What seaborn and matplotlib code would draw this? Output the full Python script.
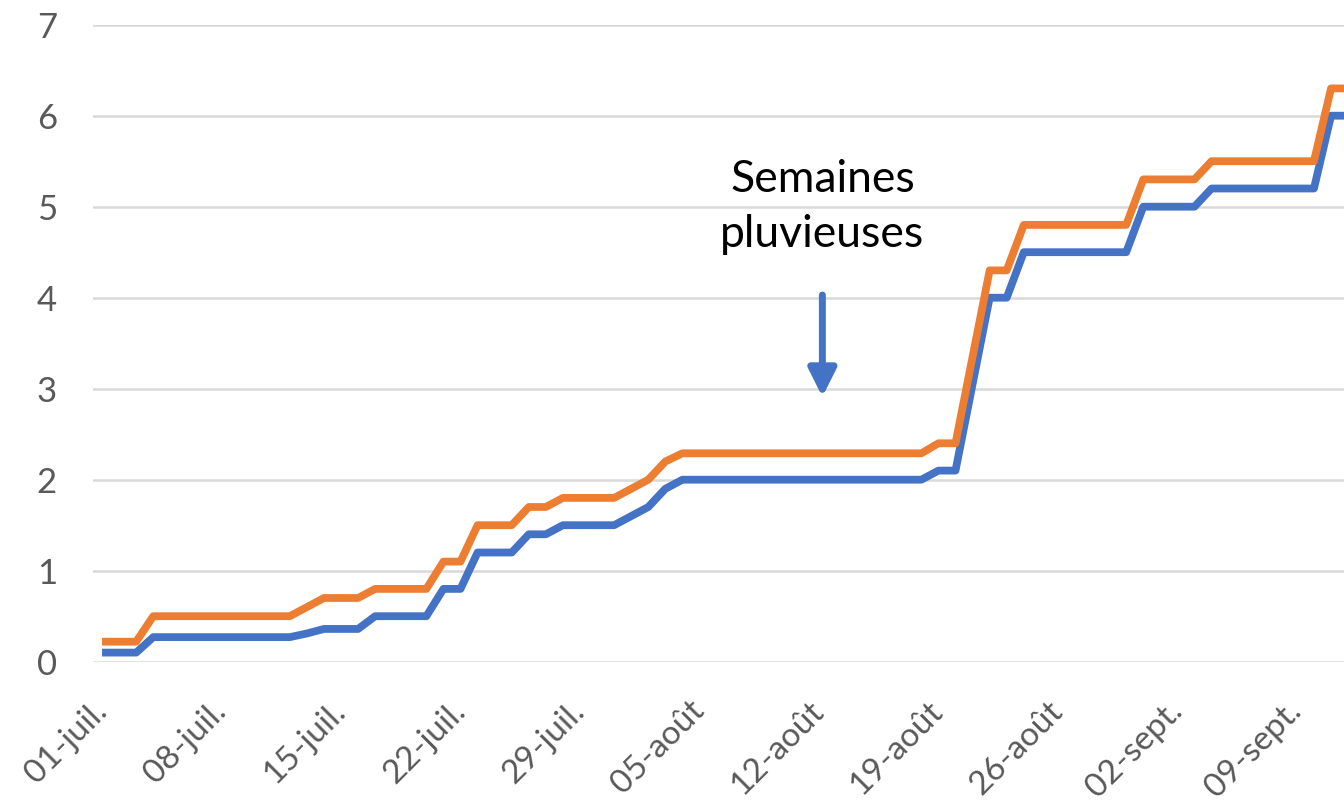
import matplotlib
matplotlib.use("Agg")
import matplotlib.pyplot as plt
import seaborn as sns
import pandas as pd

# ---- data (cumulative values, one per day from 01-juil.) ----
day_index = list(range(74))
serie_bleue = [0.1, 0.1, 0.1, 0.27, 0.27, 0.27, 0.27, 0.27, 0.27, 0.27,
               0.27, 0.27, 0.31, 0.36, 0.36, 0.36, 0.5, 0.5, 0.5, 0.5,
               0.8, 0.8, 1.2, 1.2, 1.2, 1.4, 1.4, 1.5, 1.5, 1.5,
               1.5, 1.6, 1.7, 1.9, 2.0, 2.0, 2.0, 2.0, 2.0, 2.0,
               2.0, 2.0, 2.0, 2.0, 2.0, 2.0, 2.0, 2.0, 2.0, 2.1,
               2.1, 3.05, 4.0, 4.0, 4.5, 4.5, 4.5, 4.5, 4.5, 4.5,
               4.5, 5.0, 5.0, 5.0, 5.0, 5.2, 5.2, 5.2, 5.2, 5.2,
               5.2, 5.2, 6.0, 6.0]
serie_orange = [0.22, 0.22, 0.22, 0.5, 0.5, 0.5, 0.5, 0.5, 0.5, 0.5,
                0.5, 0.5, 0.6, 0.7, 0.7, 0.7, 0.8, 0.8, 0.8, 0.8,
                1.1, 1.1, 1.5, 1.5, 1.5, 1.7, 1.7, 1.8, 1.8, 1.8,
                1.8, 1.9, 2.0, 2.2, 2.29, 2.29, 2.29, 2.29, 2.29, 2.29,
                2.29, 2.29, 2.29, 2.29, 2.29, 2.29, 2.29, 2.29, 2.29, 2.4,
                2.4, 3.35, 4.3, 4.3, 4.8, 4.8, 4.8, 4.8, 4.8, 4.8,
                4.8, 5.3, 5.3, 5.3, 5.3, 5.5, 5.5, 5.5, 5.5, 5.5,
                5.5, 5.5, 6.3, 6.3]
tick_days = [0, 7, 14, 21, 28, 35, 42, 49, 56, 63, 70]
tick_labels = ['01-juil.', '08-juil.', '15-juil.', '22-juil.', '29-juil.',
               '05-août', '12-août', '19-août', '26-août', '02-sept.', '09-sept.']
y_ticks = [0, 1, 2, 3, 4, 5, 6, 7]
annotation_text = ['Semaines', 'pluvieuses']

df = pd.DataFrame({
    'jour': day_index * 2,
    'valeur': serie_bleue + serie_orange,
    'serie': ['bleue'] * len(day_index) + ['orange'] * len(day_index),
})

sns.set_theme(style="white")
plt.rcParams['font.family'] = ['Lato', 'DejaVu Sans']

fig = plt.figure(figsize=(13.44, 8.08), dpi=100)
ax = fig.add_axes([93 / 1344, 146.3 / 808, (1344 - 93) / 1344, 637 / 808])

sns.lineplot(data=df, x='jour', y='valeur', hue='serie',
             palette={'bleue': '#4472C4', 'orange': '#ED7D31'},
             hue_order=['bleue', 'orange'],
             linewidth=5.6, legend=False, ax=ax)
for ln in ax.lines:
    ln.set_solid_joinstyle('round')
    ln.set_solid_capstyle('butt')

ax.set_xlim(-0.53, 72.76)
ax.set_ylim(0, 7)
ax.set_yticks(y_ticks)
ax.set_yticklabels([str(v) for v in y_ticks])
ax.set_xticks(tick_days)
ax.set_xticklabels(tick_labels, rotation=45, ha='right', va='center',
                   rotation_mode='anchor')
ax.tick_params(axis='x', length=0, pad=32, labelsize=24, labelcolor='#595959')
ax.tick_params(axis='y', length=0, pad=26, labelsize=25, labelcolor='#595959')
ax.set_xlabel('')
ax.set_ylabel('')
ax.grid(axis='y', color='#D9D9D9', linewidth=1.8)
ax.grid(axis='x', visible=False)
ax.set_axisbelow(True)
for s in ax.spines.values():
    s.set_visible(False)

# annotation
ax.text(42.2, 5.16, annotation_text[0], ha='center', va='baseline',
        fontsize=32, color='black')
ax.text(42.2, 4.56, annotation_text[1], ha='center', va='baseline',
        fontsize=32, color='black')
ax.annotate('', xy=(42.2, 2.91), xytext=(42.2, 4.03),
            arrowprops=dict(arrowstyle='-|>', color='#4472C4', lw=5,
                            mutation_scale=42, shrinkA=0, shrinkB=0))

fig.savefig('out.png', dpi=100)
